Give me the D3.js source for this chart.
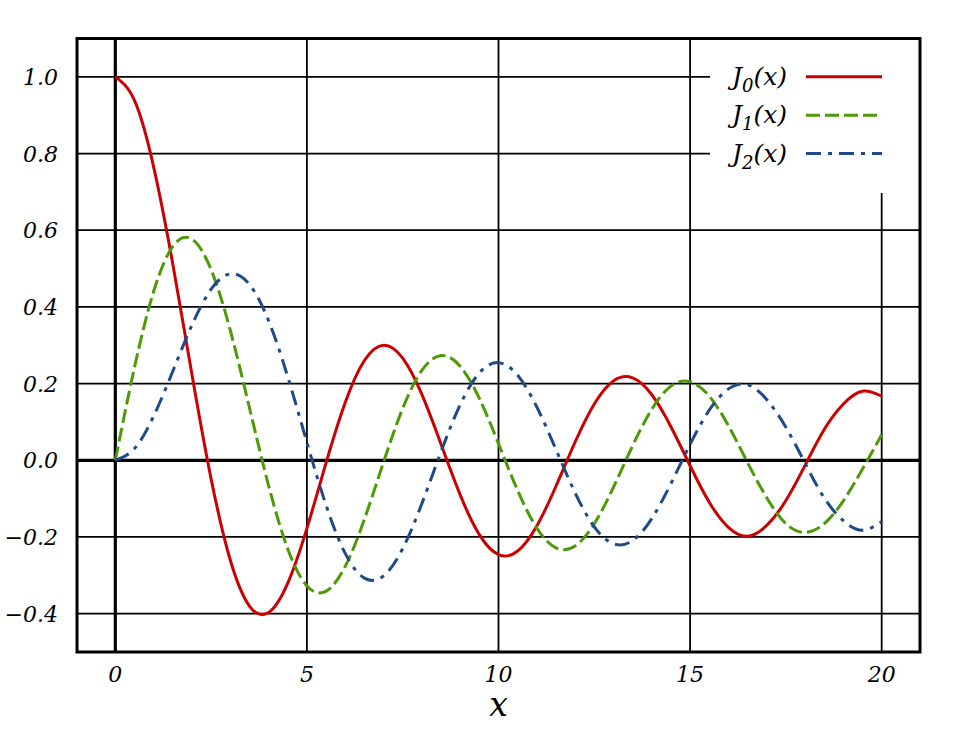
<!DOCTYPE html>
<html>
<head>
<meta charset="utf-8">
<script src="https://cdn.jsdelivr.net/npm/d3@7"></script>
<style>
  body { margin: 0; background: #fff; }
  text { font-family: "DejaVu Serif", serif; font-style: italic; }
</style>
</head>
<body>
<svg id="bessel"></svg>
<script>
// sample points, x step 0.5 from 0 to 20
var xs = d3.range(0, 20.01, 0.5);
var j0 = [1.000, 0.9385, 0.7652, 0.5118, 0.2239, -0.0484, -0.2601, -0.3801, -0.3971, -0.3205,
  -0.1776, -0.0068, 0.1506, 0.2601, 0.3001, 0.2663, 0.1717, 0.0419, -0.0903, -0.1939,
  -0.2459, -0.2366, -0.1712, -0.0677, 0.0477, 0.1469, 0.2069, 0.2150, 0.1711, 0.0875,
  -0.0142, -0.1092, -0.1749, -0.1979, -0.1699, -0.1051, -0.0134, 0.0801, 0.1466, 0.1800,
  0.1670];
var j1 = [0.000, 0.2423, 0.4401, 0.5579, 0.5767, 0.4971, 0.3391, 0.1374, -0.0660, -0.2311,
  -0.3276, -0.3414, -0.2767, -0.1538, -0.0047, 0.1352, 0.2346, 0.2731, 0.2453, 0.1613,
  0.0435, -0.0789, -0.1768, -0.2284, -0.2234, -0.1655, -0.0703, 0.0380, 0.1334, 0.1934,
  0.2051, 0.1672, 0.0904, -0.0060, -0.0977, -0.1654, -0.1880, -0.1655, -0.1057, -0.0230,
  0.0668];
var j2 = [0.000, 0.0306, 0.1149, 0.2321, 0.3528, 0.4461, 0.4861, 0.4586, 0.3641, 0.2178,
  0.0466, -0.1173, -0.2429, -0.3074, -0.3014, -0.2303, -0.1130, 0.0224, 0.1448, 0.2279,
  0.2546, 0.2216, 0.1390, 0.0280, -0.0849, -0.1734, -0.2177, -0.2094, -0.1520, -0.0608,
  0.0416, 0.1308, 0.1862, 0.1972, 0.1584, 0.0862, -0.0075, -0.0980, -0.1577, -0.1823,
  -0.1603];

var seriesNames = ["0", "1", "2"];
var xTicks = [0, 5, 10, 15, 20];
var yTicks = [-0.4, -0.2, 0.0, 0.2, 0.4, 0.6, 0.8, 1.0];

var series = [
  { sub: seriesNames[0], values: j0, color: "#cc0000", dash: null },
  { sub: seriesNames[1], values: j1, color: "#4e9a06", dash: "14,5" },
  { sub: seriesNames[2], values: j2, color: "#204a87", dash: "15,7,4,7" }
];

var width = 960, height = 730;
var plotLeft = 77, plotRight = 920, plotTop = 38.5, plotBottom = 652;

var svg = d3.select("#bessel")
  .attr("width", width)
  .attr("height", height);

var xScale = d3.scaleLinear().domain([-1, 21]).range([plotLeft, plotRight]);
var yScale = d3.scaleLinear().domain([-0.5, 1.1]).range([plotBottom, plotTop]);

// grid
svg.append("g")
  .selectAll("line")
  .data(yTicks.filter(d => d !== 0))
  .join("line")
  .attr("x1", plotLeft).attr("x2", plotRight)
  .attr("y1", d => yScale(d)).attr("y2", d => yScale(d))
  .attr("stroke", "#000").attr("stroke-width", 1.8);

svg.append("g")
  .selectAll("line")
  .data(xTicks.filter(d => d !== 0))
  .join("line")
  .attr("x1", d => xScale(d)).attr("x2", d => xScale(d))
  .attr("y1", plotTop).attr("y2", plotBottom)
  .attr("stroke", "#000").attr("stroke-width", 1.8);

// zero lines
svg.append("line")
  .attr("x1", plotLeft).attr("x2", plotRight)
  .attr("y1", yScale(0)).attr("y2", yScale(0))
  .attr("stroke", "#000").attr("stroke-width", 3.2);
svg.append("line")
  .attr("x1", xScale(0)).attr("x2", xScale(0))
  .attr("y1", plotTop).attr("y2", plotBottom)
  .attr("stroke", "#000").attr("stroke-width", 3.2);

// curves
var line = d3.line()
  .x((d, i) => xScale(xs[i]))
  .y(d => yScale(d))
  .curve(d3.curveNatural);

svg.append("g")
  .selectAll("path")
  .data(series)
  .join("path")
  .attr("d", d => line(d.values))
  .attr("fill", "none")
  .attr("stroke", d => d.color)
  .attr("stroke-width", 3)
  .attr("stroke-dasharray", d => d.dash);

// legend box
svg.append("rect")
  .attr("x", 710).attr("y", plotTop)
  .attr("width", plotRight - 710).attr("height", 193 - plotTop)
  .attr("fill", "#fff");

var legend = svg.append("g")
  .selectAll("g")
  .data(series)
  .join("g")
  .attr("transform", (d, i) => `translate(0,${yScale(1.0 - i * 0.1)})`);

var label = legend.append("text")
  .attr("x", 732)
  .attr("y", 8)
  .attr("font-size", 25);
label.append("tspan").text("J");
label.append("tspan").attr("dy", 7).attr("font-size", 18).text(d => d.sub);
label.append("tspan").attr("dy", -7).text("(x)");

legend.append("line")
  .attr("x1", 806).attr("x2", 882)
  .attr("stroke", d => d.color)
  .attr("stroke-width", 3)
  .attr("stroke-dasharray", d => d.dash);

// frame
svg.append("rect")
  .attr("x", plotLeft).attr("y", plotTop)
  .attr("width", plotRight - plotLeft).attr("height", plotBottom - plotTop)
  .attr("fill", "none")
  .attr("stroke", "#000")
  .attr("stroke-width", 3);

// tick labels
svg.append("g")
  .selectAll("text")
  .data(yTicks)
  .join("text")
  .attr("x", 58)
  .attr("y", d => yScale(d) + 8)
  .attr("text-anchor", "end")
  .attr("font-size", 22)
  .text(d => d3.format(".1f")(d).replace("-", "\u2212"));

svg.append("g")
  .selectAll("text")
  .data(xTicks)
  .join("text")
  .attr("x", d => xScale(d))
  .attr("y", 682)
  .attr("text-anchor", "middle")
  .attr("font-size", 22)
  .text(d => d);

svg.append("text")
  .attr("x", xScale(10))
  .attr("y", 716)
  .attr("text-anchor", "middle")
  .attr("font-size", 33)
  .text("x");
</script>
</body>
</html>
